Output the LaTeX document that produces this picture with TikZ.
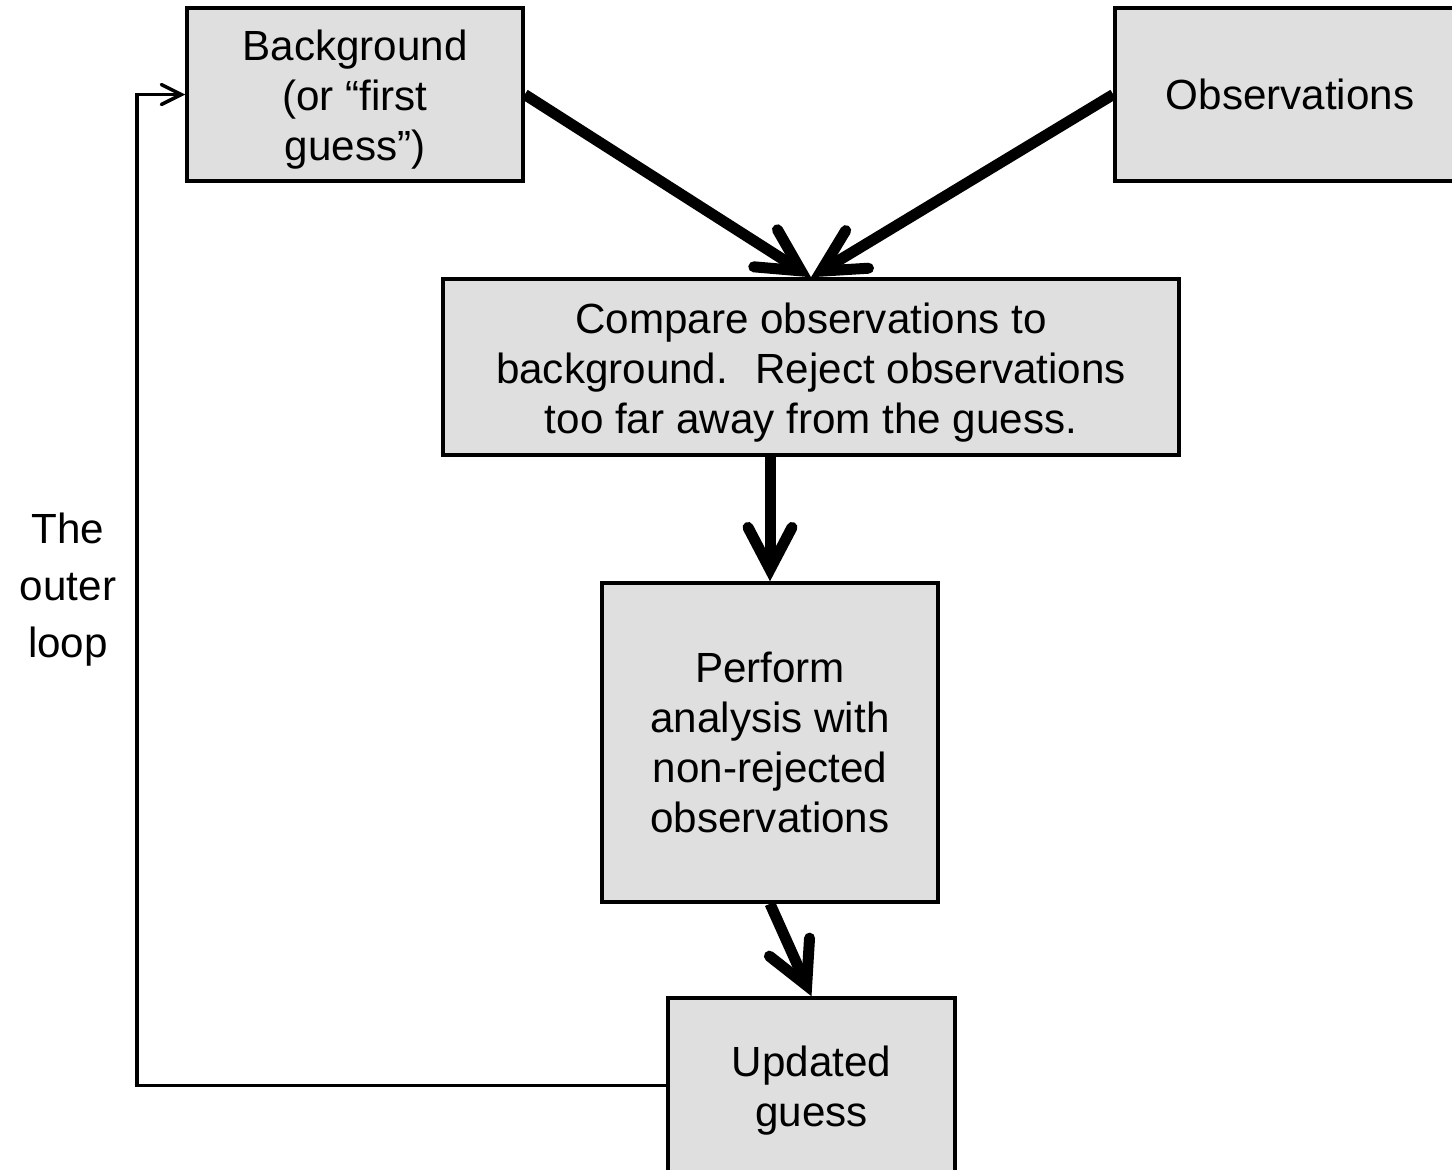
\documentclass[tikz,border=0pt]{standalone}
\usepackage{fontspec}
\setmainfont{Liberation Sans}
\usetikzlibrary{arrows.meta}
\definecolor{boxgray}{RGB}{223,223,223}
\newcommand\toppad{\rule{0pt}{11.8pt}}

\begin{document}
\begin{tikzpicture}[
    box/.style={draw, line width=0.035cm, fill=boxgray, align=center, inner sep=0pt,
      font=\fontsize{12}{14.2}\selectfont},
    bigarrow/.style={line width=0.11cm,
      -{Straight Barb[length=0.42cm, width=0.44cm, line cap=round]}},
    looparrow/.style={line width=0.035cm,
      -{Straight Barb[length=0.2cm, width=0.2cm, line cap=round]}}]
        \useasboundingbox (0,0) rectangle (14.52,-11.69);

        \node[box, minimum width=3.36cm, minimum height=1.73cm] (bg) at (3.55,-0.945)
            {\toppad Background\\(or “first\\guess”)};
        \node[box, minimum width=3.50cm, minimum height=1.73cm] (obs) at (12.90,-0.945)
            {Observations};
        \node[box, minimum width=7.36cm, minimum height=1.76cm] (cmp) at (8.11,-3.67)
            {\toppad Compare observations to\\background.~ Reject observations\\too far away from the guess.};
        \node[box, minimum width=3.36cm, minimum height=3.19cm] (perf) at (7.70,-7.425)
            {Perform\\analysis with\\non-rejected\\observations};
        \node[box, minimum width=2.87cm, minimum height=1.75cm] (upd) at (8.115,-10.855)
            {\toppad Updated\\guess};
        \node[align=center, font=\fontsize{12}{16.2}\selectfont] (outer) at (0.68,-5.90)
            {The\\outer\\loop};

        \draw[bigarrow] (bg.east) -- (cmp.north);
        \draw[bigarrow] (obs.west) -- (cmp.north);
        \draw[bigarrow] (cmp.south -| perf.north) -- (perf.north);
        \draw[bigarrow] (perf.south) -- (upd.north);

        \coordinate (corner) at (1.37,-10.855);
        \draw[looparrow] (upd.west) -- (corner) |- (bg.west);
\end{tikzpicture}
\end{document}
